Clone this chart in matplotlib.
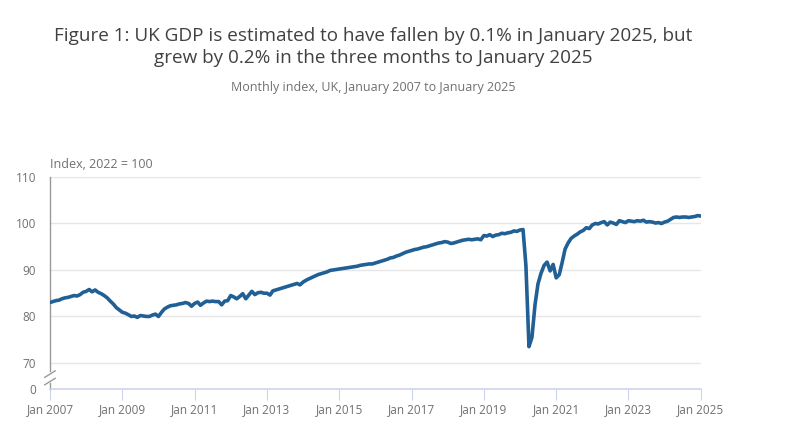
import matplotlib
matplotlib.use('Agg')
import matplotlib.pyplot as plt
import pandas as pd
import numpy as np

plt.rcParams['font.family'] = ['Open Sans', 'DejaVu Sans']

# monthly GDP index, 2022 = 100, Jan 2007 .. Jan 2025
gdp_index = [
    83.0, 83.2, 83.4, 83.5, 83.8, 84.0, 84.1, 84.3, 84.5, 84.4, 84.7, 85.2,  # 2007
    85.4, 85.8, 85.3, 85.7, 85.2, 84.9, 84.5, 84.0, 83.3, 82.7, 81.9, 81.4,  # 2008
    80.9, 80.7, 80.4, 80.0, 80.1, 79.8, 80.2, 80.1, 80.0, 80.0, 80.3, 80.5,  # 2009
    80.0, 80.9, 81.6, 82.0, 82.3, 82.4, 82.5, 82.7, 82.8, 83.0, 82.8, 82.2,  # 2010
    82.8, 83.1, 82.4, 82.9, 83.3, 83.2, 83.3, 83.2, 83.2, 82.5, 83.3, 83.4,  # 2011
    84.5, 84.2, 83.8, 84.3, 84.9, 83.8, 84.6, 85.4, 84.7, 85.1, 85.2, 85.0,  # 2012
    85.0, 84.6, 85.5, 85.7, 85.9, 86.1, 86.3, 86.5, 86.7, 86.9, 87.1, 86.8,  # 2013
    87.4, 87.8, 88.1, 88.4, 88.7, 89.0, 89.2, 89.4, 89.6, 89.9, 90.0, 90.1,  # 2014
    90.2, 90.3, 90.4, 90.5, 90.6, 90.7, 90.8, 91.0, 91.1, 91.2, 91.3, 91.3,  # 2015
    91.5, 91.7, 91.9, 92.1, 92.3, 92.6, 92.7, 93.0, 93.2, 93.5, 93.8, 94.0,  # 2016
    94.2, 94.4, 94.5, 94.7, 94.9, 95.0, 95.2, 95.4, 95.6, 95.8, 95.9, 96.1,  # 2017
    96.0, 95.7, 95.8, 96.0, 96.2, 96.4, 96.5, 96.6, 96.5, 96.6, 96.7, 96.5,  # 2018
    97.4, 97.3, 97.6, 97.2, 97.5, 97.6, 97.9, 97.8, 98.0, 98.1, 98.4, 98.3,  # 2019
    98.6, 98.7, 91.0, 73.5, 75.5, 82.5, 87.0, 89.3, 91.0, 91.7, 89.8, 91.2,  # 2020
    88.3, 89.0, 91.5, 94.5, 95.8, 96.8, 97.3, 97.7, 98.2, 98.5, 99.1, 98.9,  # 2021
    99.7, 100.0, 99.9, 100.2, 100.4, 99.7, 100.3, 100.1, 99.8, 100.6, 100.4, 100.2,  # 2022
    100.6, 100.5, 100.4, 100.6, 100.5, 100.7, 100.3, 100.4, 100.3, 100.1, 100.2, 100.0,  # 2023
    100.3, 100.5, 100.9, 101.3, 101.4, 101.3, 101.4, 101.4, 101.3, 101.4, 101.5, 101.7,  # 2024
    101.6,  # Jan 2025
]
months = pd.date_range('2007-01-01', '2025-01-01', freq='MS')
tick_years = list(range(2007, 2026, 2))
y_ticks = [70, 80, 90, 100, 110]
y_zero = 64.4  # where the "0" label sits below the axis break

title = ('Figure 1: UK GDP is estimated to have fallen by 0.1% in January 2025, but\n'
         'grew by 0.2% in the three months to January 2025')
subtitle = 'Monthly index, UK, January 2007 to January 2025'

fig = plt.figure(figsize=(8, 4.42), dpi=100)
ax = fig.add_axes([0.0625, 0.12, 0.8135, 0.4795])

for v in y_ticks:
    ax.axhline(v, color='#e6e6e6', lw=1, zorder=0)

ax.plot(months, gdp_index, color='#206095', lw=2.6, solid_capstyle='round', zorder=3)

ax.set_xlim(months[0], months[-1])
ax.set_ylim(y_zero, 110)

ticks = [pd.Timestamp(f'{y}-01-01') for y in tick_years]
ax.set_xticks(ticks)
ax.set_xticklabels([f'Jan {y}' for y in tick_years], color='#707070', fontsize=8.5)
ax.set_yticks(y_ticks + [y_zero])
ax.set_yticklabels([str(v) for v in y_ticks] + ['0'], color='#707070', fontsize=8.5)
ax.tick_params(axis='x', length=8, color='#ccd6eb', pad=2)
ax.tick_params(axis='y', length=0, pad=10)

for s in ['top', 'right', 'left']:
    ax.spines[s].set_visible(False)
ax.spines['bottom'].set_color('#ccd6eb')
ax.spines['bottom'].set_linewidth(1.2)

# left axis line with a break between 70 and 0
tr = ax.get_yaxis_transform()
ax.plot([0, 0], [68.2, 110], color='#999999', lw=1, transform=tr, clip_on=False)
ax.plot([0, 0], [y_zero, 65.6], color='#999999', lw=1, transform=tr, clip_on=False)
for yb in [66.0, 67.6]:
    ax.plot([-0.008, 0.008], [yb - 0.7, yb + 0.7], color='#999999', lw=1,
            transform=tr, clip_on=False)

ax.text(0, 111.2, 'Index, 2022 = 100', transform=tr, color='#707070', fontsize=9,
        ha='left', va='bottom')

fig.text(0.467, 0.94, title, ha='center', va='top', fontsize=13.6, color='#414042',
         linespacing=1.3)
fig.text(0.467, 0.803, subtitle, ha='center', va='center', fontsize=9, color='#707070')

fig.savefig('out.png', dpi=100)
